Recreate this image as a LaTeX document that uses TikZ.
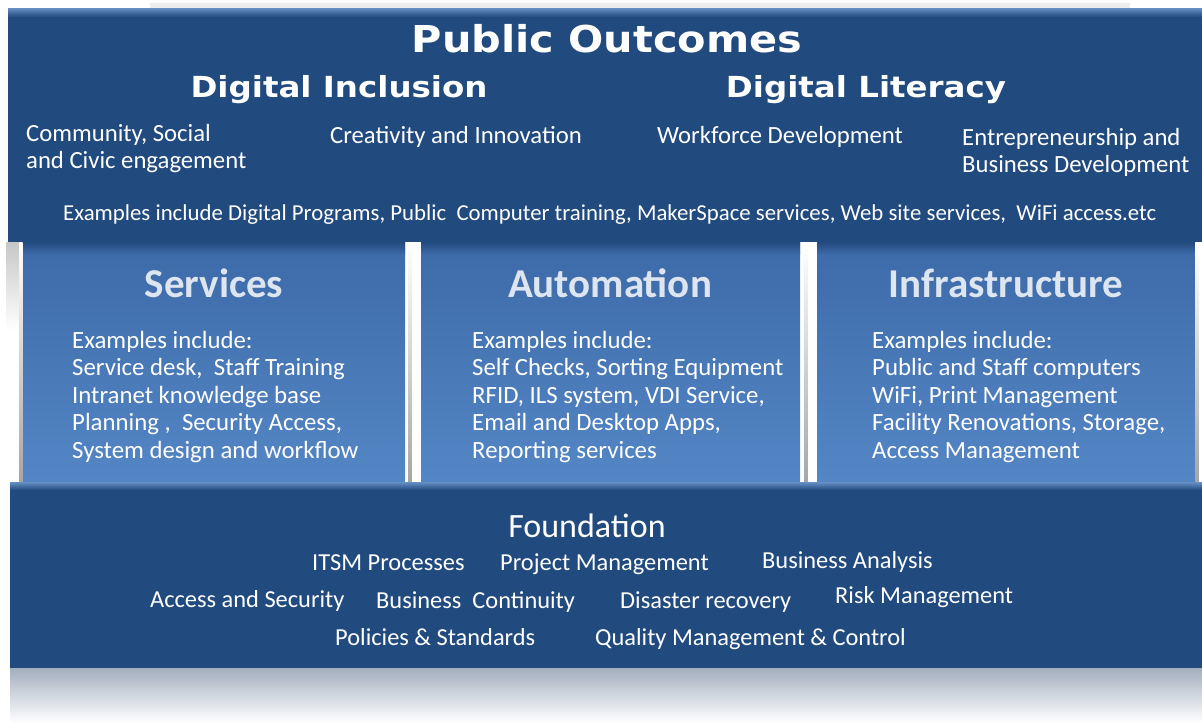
\documentclass[tikz,border=0pt]{standalone}
\usepackage{fontspec}
\setmainfont{Carlito}
\newfontfamily\headfont[FakeStretch=1.12]{DejaVu Sans}
\usepackage{tikz}
\usetikzlibrary{positioning}
\definecolor{tierblue}{HTML}{214A7E}
\definecolor{rimblue}{HTML}{6790C6}
\definecolor{pillartop}{HTML}{3D6AA8}
\definecolor{pillarbot}{HTML}{5486C5}
\definecolor{headgrey}{HTML}{DDE5F0}
\definecolor{glowgrey}{HTML}{A3AFBF}
\tikzset{
    pillar/.style={top color=pillartop,bottom color=pillarbot},
    gapline/.style={top color=white,bottom color=black!35},
    tiertitle/.style={font=\headfont\bfseries\fontsize{37}{40}\selectfont,text=white,inner sep=0pt},
    goaltitle/.style={font=\headfont\bfseries\fontsize{29}{32}\selectfont,text=white,inner sep=0pt},
    pillartitle/.style={font=\bfseries\fontsize{41}{44}\selectfont,text=headgrey,inner sep=0pt},
    bodytext/.style={font=\fontsize{24.7}{26.5}\selectfont,text=white,align=left,inner sep=0pt},
    basetext/.style={font=\fontsize{24.4}{26}\selectfont,text=white,inner sep=0pt},
    pillartext/.style={font=\fontsize{24.8}{27.5}\selectfont,text=white,align=left,inner sep=0pt},
  }
\newcommand{\exampleLead}{Examples include:}

\begin{document}
\begin{tikzpicture}[x=1pt,y=-1pt]
  \useasboundingbox (0,0) rectangle (1202,723);
  % outcome tier
  \fill[black!7] (150,3) rectangle (1130,8);
  \fill[tierblue] (8,8) rectangle (1202,242);
  \shade[top color=rimblue,bottom color=tierblue] (8,8) rectangle (1202,17);
  % three pillars with their gaps
  \shade[top color=black!22,bottom color=white] (6,242) rectangle (21,330);
  \foreach \l/\r in {22/405,421/800,817/1195} {
    \shade[pillar] (\l,242) rectangle (\r,482);
    \shade[top color=tierblue,bottom color=pillartop] (\l,242) rectangle (\r,254);
  }
  \foreach \x in {21,410,806,1197}
    \shade[gapline] (\x-1.5,242) rectangle (\x+1.5,482);
  % foundation tier and its reflection
  \fill[tierblue] (10,482) rectangle (1202,668);
  \shade[top color=rimblue,bottom color=tierblue] (10,482) rectangle (1202,490);
  \shade[top color=glowgrey,bottom color=white] (10,668) rectangle (1202,723);

  % multi-line nodes sit on the baseline of their last line
  \node[tiertitle,anchor=base] (outcomes) at (607,52) {Public Outcomes};
  \node[goaltitle,anchor=base] (inclusion) at (339,97) {Digital Inclusion};
  \node[goaltitle,anchor=base] (literacy) at (866,97) {Digital Literacy};
  \node[bodytext,anchor=base west] (civic) at (26,168) {Community, Social\\and Civic engagement};
  \node[bodytext,anchor=base west] (creativity) at (330,143) {Creativity and Innovation};
  \node[bodytext,anchor=base west] (workforce) at (657,143) {Workforce Development};
  \node[bodytext,anchor=base west] (business) at (962,172) {Entrepreneurship and\\Business Development};
  \node[bodytext,font=\fontsize{22.8}{24}\selectfont,anchor=base west] (outcomeeg) at (63,220)
    {Examples include Digital Programs, Public\ \ Computer training, MakerSpace services, Web site services,\ \ WiFi access.etc};

  \node[pillartitle,anchor=base] (services) at (214,297) {Services};
  \node[pillartitle,anchor=base] (automation) at (610,297) {Automation};
  \node[pillartitle,anchor=base] (infra) at (1006,297) {Infrastructure};
  \node[pillartext,anchor=base west] (serviceseg) at (72,458)
    {\exampleLead\\Service desk,\ \ Staff Training\\Intranet knowledge base\\Planning ,\ \ Security Access,\\System design and workflow};
  \node[pillartext,anchor=base west] (automationeg) at (472,458)
    {\exampleLead\\Self Checks, Sorting Equipment\\RFID, ILS system, VDI Service,\\Email and Desktop Apps,\\Reporting services};
  \node[pillartext,anchor=base west] (infraeg) at (872,458)
    {\exampleLead\\Public and Staff computers\\WiFi, Print Management\\Facility Renovations, Storage,\\Access Management};

  \node[basetext,font=\fontsize{34}{36}\selectfont,anchor=base] (foundation) at (587,537) {Foundation};
  \node[basetext,anchor=base west] (itsm) at (312,570) {ITSM Processes};
  \node[basetext,anchor=base west] (project) at (500,570) {Project Management};
  \node[basetext,anchor=base west] (analysis) at (762,568) {Business Analysis};
  \node[basetext,anchor=base west] (access) at (150,607) {Access and Security};
  \node[basetext,anchor=base west] (continuity) at (376,608) {Business\ \ Continuity};
  \node[basetext,anchor=base west] (disaster) at (620,608) {Disaster recovery};
  \node[basetext,anchor=base west] (risk) at (835,603) {Risk Management};
  \node[basetext,anchor=base west] (policies) at (335,645) {Policies \& Standards};
  \node[basetext,anchor=base west] (quality) at (595,645) {Quality Management \& Control};
\end{tikzpicture}
\end{document}
